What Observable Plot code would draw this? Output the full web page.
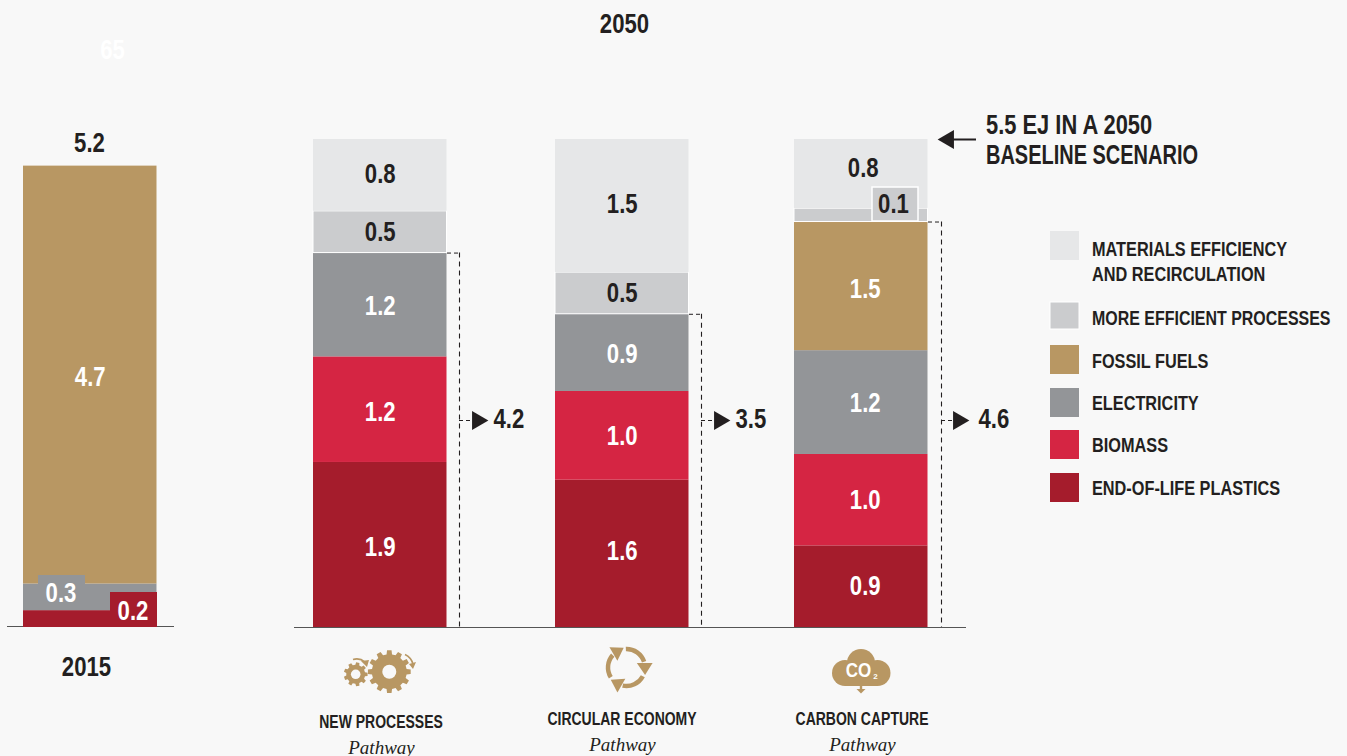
<!DOCTYPE html>
<html><head><meta charset="utf-8">
<script src="https://cdn.jsdelivr.net/npm/d3@7"></script>
<script src="https://cdn.jsdelivr.net/npm/@observablehq/plot@0.6"></script>
<style>
html,body{margin:0;padding:0;background:#f8f8f8;overflow:hidden}
svg{display:block}
</style></head><body><div id="chart"></div>
<script>
// ---- data (exajoules) ----
const seriesNames = ["END-OF-LIFE PLASTICS","BIOMASS","ELECTRICITY","FOSSIL FUELS","MORE EFFICIENT PROCESSES","MATERIALS EFFICIENCY AND RECIRCULATION"];
const barNames = ["2015","NEW PROCESSES","CIRCULAR ECONOMY","CARBON CAPTURE"];
const heights2015 = [0.19,0,0.30,4.71,0,0];
const heightsNew = [1.86,1.19,1.17,0,0.47,0.81];
const heightsCircular = [1.66,1.0,0.87,0,0.47,1.5];
const heightsCarbon = [0.92,1.03,1.17,1.45,0.15,0.78];
const labels2015 = ["0.2","","0.3","4.7","",""];
const labelsNew = ["1.9","1.2","1.2","","0.5","0.8"];
const labelsCircular = ["1.6","1.0","0.9","","0.5","1.5"];
const labelsCarbon = ["0.9","1.0","1.2","1.5","0.1","0.8"];
const subtotalLabels = ["4.2","3.5","4.6"];
const total2015 = "5.2";
const seriesColors = ["#a51c2c","#d52543","#939598","#b89763","#cbccce","#e6e7e8"];

// ---- layout ----
const W = 1347, H = 756;
const barWidth = 133.5;
const barLeft = {"2015":23,"NEW PROCESSES":313,"CIRCULAR ECONOMY":555,"CARBON CAPTURE":794};
const Y0 = 627, YTOP = 139, YMAX = 5.5;
const py = px => (Y0 - px) / (Y0 - YTOP) * YMAX;
const FONT = "'Liberation Sans',sans-serif";
const INK = "#231f20", TAN = "#b89763", BG = "#f8f8f8";

const allH = [heights2015,heightsNew,heightsCircular,heightsCarbon];
const allL = [labels2015,labelsNew,labelsCircular,labelsCarbon];
const rows = barNames.flatMap((b,i) => {
  let c = 0;
  return seriesNames.map((s,j) => {
    const r = {bar:b, series:s, y1:c, y2:c+allH[i][j], label:allL[i][j]};
    c += allH[i][j];
    r.x1 = barLeft[b]; r.x2 = barLeft[b]+barWidth;
    r.xc = barLeft[b]+barWidth/2 + (b==="CARBON CAPTURE" ? (j===5?2:4) : 0);
    return r;
  }).filter(r => r.y2 > r.y1);
});
const segTop = (b,s) => rows.find(r => r.bar===b && r.series===s).y2;

// label nudges, in pixels (up is positive), keyed by bar and series index
const nudge = {"CARBON CAPTURE|5":6,"NEW PROCESSES|5":1,"CIRCULAR ECONOMY|5":2,"NEW PROCESSES|1":-3,"NEW PROCESSES|2":-1,
  "CIRCULAR ECONOMY|0":2,"CIRCULAR ECONOMY|1":-1,"CIRCULAR ECONOMY|2":-1,"NEW PROCESSES|0":-2,"CARBON CAPTURE|3":-3,
  "CARBON CAPTURE|2":-1,"2015|3":-2};
const labelY = d => (d.y1+d.y2)/2 + (nudge[d.bar+"|"+seriesNames.indexOf(d.series)]||0)/(Y0-YTOP)*YMAX;

// label chips that sit off the segment
const chips = [
  {x1:38,x2:85,top:575,bot:609,series:seriesNames[2],label:"0.3",stroke:"none"},
  {x1:110,x2:157,top:592,bot:627,series:seriesNames[0],label:"0.2",stroke:"none"},
  {x1:872,x2:918,top:187,bot:221,series:seriesNames[4],label:"0.1",stroke:"#fff"}
];
const isChip = r => (r.bar==="2015" && r.label!=="4.7") || (r.bar==="CARBON CAPTURE" && r.label==="0.1");

// subtotal brackets
const brackets = [
  {bar:"NEW PROCESSES",series:seriesNames[2],x0:447,x:459,ax:477,tx:493,label:subtotalLabels[0]},
  {bar:"CIRCULAR ECONOMY",series:seriesNames[2],x0:689,x:701,ax:719,tx:735,label:subtotalLabels[1]},
  {bar:"CARBON CAPTURE",series:seriesNames[3],x0:928,x:941,ax:958,tx:978,label:subtotalLabels[2]}
];
brackets.forEach(b => b.top = segTop(b.bar,b.series));
const arrowY = py(420);

const legendRows = [
  {series:seriesNames[5],top:231,bot:260,lines:[["MATERIALS EFFICIENCY",249],["AND RECIRCULATION",274]]},
  {series:seriesNames[4],top:302,bot:329,lines:[["MORE EFFICIENT PROCESSES",318]],stroke:"#fff"},
  {series:seriesNames[3],top:345,bot:374,lines:[["FOSSIL FUELS",361]]},
  {series:seriesNames[2],top:388,bot:417,lines:[["ELECTRICITY",403]]},
  {series:seriesNames[1],top:430,bot:459,lines:[["BIOMASS",445]]},
  {series:seriesNames[0],top:473,bot:502,lines:[["END-OF-LIFE PLASTICS",488]]}
];
const legendTexts = legendRows.flatMap(l => l.lines.map(([t,y]) => ({t,y:py(y)})));

const freeText = (t,x,y,o={}) => Plot.text([t],{x:()=>x,y:()=>py(y),text:d=>d,
  fontFamily:FONT,fontWeight:"bold",fontSize:27,fill:INK,lineAnchor:"middle",textAnchor:"middle",...o});

// ---- icons (drawn as a custom mark) ----
function gearPath(cx,cy,R,r,n){
  const pts=[]; const st=2*Math.PI/n;
  for(let i=0;i<n;i++){const a=i*st;
    [[-.30,r],[-.2,R],[.2,R],[.30,r]].forEach(([f,q])=>{const t=a+f*st;pts.push([cx+q*Math.cos(t),cy+q*Math.sin(t)]);});
  }
  return "M"+pts.map(p=>p.join(",")).join("L")+"Z";
}
function icons(){
  const g=d3.create("svg:g");
  [[389.3,671.7,21.5,17.5,12,7],[355.7,674.3,12,9.5,9,4.8]].forEach(([x,y,R,r,n,h])=>{
    g.append("path").attr("d",gearPath(x,y,R,r,n)).attr("fill",TAN);
    g.append("circle").attr("cx",x).attr("cy",y).attr("r",h).attr("fill",BG);
  });
  g.append("path").attr("d","M353,659.5 A13,13 0 0 1 365,662").attr("fill","none").attr("stroke",TAN).attr("stroke-width",1.6);
  g.append("path").attr("d","M405,654.5 A15,15 0 0 1 413,664").attr("fill","none").attr("stroke",TAN).attr("stroke-width",1.6);
  g.append("path").attr("d","M361,661 L369,660 L367,667 Z M409,664 L416,662 L413,669 Z").attr("fill",TAN);
  const rc=[626.5,667.5],R=18.5;
  const pol=(deg,q)=>[q*Math.sin(deg*Math.PI/180),-q*Math.cos(deg*Math.PI/180)];
  for(let k=0;k<3;k++){
    const a=g.append("g").attr("transform",`translate(${rc}) rotate(${120*k})`);
    a.append("path").attr("d",`M${pol(-2,R)} A${R},${R} 0 0 1 ${pol(72,R)}`).attr("fill","none").attr("stroke",TAN).attr("stroke-width",4.5);
    a.append("path").attr("d",`M${pol(66,11.3)} L${pol(80,26.5)} L${pol(112,20)} Z`).attr("fill",TAN);
  }
  const c=g.append("g").attr("fill",TAN);
  [[861,663,14],[845,673,13],[877.5,673,13]].forEach(([x,y,r])=>c.append("circle").attr("cx",x).attr("cy",y).attr("r",r));
  c.append("rect").attr("x",845).attr("y",668).attr("width",32.5).attr("height",18);
  c.append("rect").attr("x",859.8).attr("y",685).attr("width",2.4).attr("height",5);
  c.append("path").attr("d","M856.5,689 L865.5,689 L861,693.5 Z");
  return g.node();
}

// ---- chart ----
const chart = Plot.plot({
  width:W,height:H,margin:0,
  style:{background:BG,fontFamily:FONT,overflow:"visible"},
  x:{domain:[0,W],range:[0,W],axis:null},
  y:{domain:[0,YMAX],range:[Y0,YTOP],axis:null},
  color:{domain:seriesNames,range:seriesColors},
  marks:[
    Plot.ruleY([py(626)],{x1:()=>7,x2:()=>174,stroke:"#555",strokeWidth:1.2}),
    Plot.ruleY([py(627)],{x1:()=>294,x2:()=>966,stroke:"#555",strokeWidth:1.2}),
    Plot.rect(rows,{x1:"x1",x2:"x2",y1:"y1",y2:"y2",fill:"series",
      stroke:d=>d.series===seriesNames[4]?"#fff":"none",strokeWidth:1}),
    Plot.text(rows.filter(r=>r.label&&!isChip(r)),{
      x:"xc",y:labelY,text:"label",
      fontFamily:FONT,fontWeight:"bold",fontSize:27,lineAnchor:"middle",
      fill:d=>[seriesNames[4],seriesNames[5]].includes(d.series)?INK:"#fff"}),
    Plot.rect(chips,{x1:"x1",x2:"x2",y1:d=>py(d.bot),y2:d=>py(d.top),fill:"series",stroke:"stroke",strokeWidth:1.5}),
    Plot.text(chips,{x:d=>(d.x1+d.x2)/2+(d.label==="0.2"?-1:d.label==="0.3"?-1:-2),y:d=>py((d.top+d.bot)/2+(d.label==="0.1"?0:1)),text:"label",
      fontFamily:FONT,fontWeight:"bold",fontSize:27,lineAnchor:"middle",fill:d=>d.label==="0.1"?INK:"#fff"}),
    freeText("65",112,50,{fill:"#fff"}),
    freeText("2050",624,24),
    freeText(total2015,89,143),
    freeText("2015",86,667),
    Plot.ruleY(brackets,{y:"top",x1:"x0",x2:"x",stroke:INK,strokeWidth:1,strokeDasharray:"4 3"}),
    Plot.ruleX(brackets,{x:"x",y1:"top",y2:0,stroke:INK,strokeWidth:1.1,strokeDasharray:"5 4"}),
    Plot.ruleY(brackets,{y:()=>arrowY,x1:"x",x2:"ax",stroke:INK,strokeWidth:1,strokeDasharray:"4 3"}),
    Plot.dot(brackets,{x:"ax",y:()=>arrowY,symbol:"triangle",rotate:90,r:7,fill:INK,stroke:"none"}),
    Plot.text(brackets,{x:"tx",y:()=>py(419),text:"label",textAnchor:"start",lineAnchor:"middle",
      fontFamily:FONT,fontWeight:"bold",fontSize:27,fill:INK}),
    Plot.ruleY([py(139)],{x1:()=>950,x2:()=>976,stroke:INK,strokeWidth:2}),
    Plot.dot([0],{x:()=>948,y:()=>py(139),symbol:"triangle",rotate:-90,r:7,fill:INK,stroke:"none"}),
    freeText("5.5 EJ IN A 2050",985.5,125,{textAnchor:"start"}),
    freeText("BASELINE SCENARIO",985.5,155,{textAnchor:"start"}),
    Plot.rect(legendRows,{x1:()=>1050,x2:()=>1079,y1:d=>py(d.bot),y2:d=>py(d.top),fill:"series",stroke:d=>d.stroke||"none"}),
    Plot.text(legendTexts,{x:()=>1091.5,y:"y",text:"t",textAnchor:"start",lineAnchor:"middle",
      fontFamily:FONT,fontWeight:"bold",fontSize:21,fill:INK}),
    icons,
    freeText(barNames[1],380.5,722,{fontSize:18.5}),
    freeText(barNames[2],621.5,719,{fontSize:18.5}),
    freeText(barNames[3],861.5,719,{fontSize:18.5}),
    ...[[381,747],[622,744],[862,744]].map(([x,y])=>freeText("Pathway",x,y,{
      fontFamily:"'Liberation Serif',serif",fontStyle:"italic",fontWeight:"normal",fontSize:19})),
    freeText("CO",858,670,{fontSize:20,fill:"#fff"}),
    freeText("2",875,676,{fontSize:8,fill:"#fff"})
  ]
});
document.getElementById("chart").append(chart);

// Condense the bold sans text: no condensed face is installed, so squeeze glyphs to the reference's widths.
chart.querySelectorAll("text").forEach(el => {
  const t = el.textContent, fs = parseFloat(getComputedStyle(el).fontSize);
  if (t==="Pathway" || t==="2") return;
  const f = t==="CO" ? 0.85 : /^[\d.]+$/.test(t) ? 0.82 : t.startsWith("5.5") ? 0.81 : t.startsWith("MORE") ? 0.76
    : fs>=27 ? 0.74 : fs>=21 ? 0.775 : 0.756;
  el.setAttribute("textLength", (el.getComputedTextLength()*f).toFixed(1));
  el.setAttribute("lengthAdjust","spacingAndGlyphs");
});
</script></body></html>
